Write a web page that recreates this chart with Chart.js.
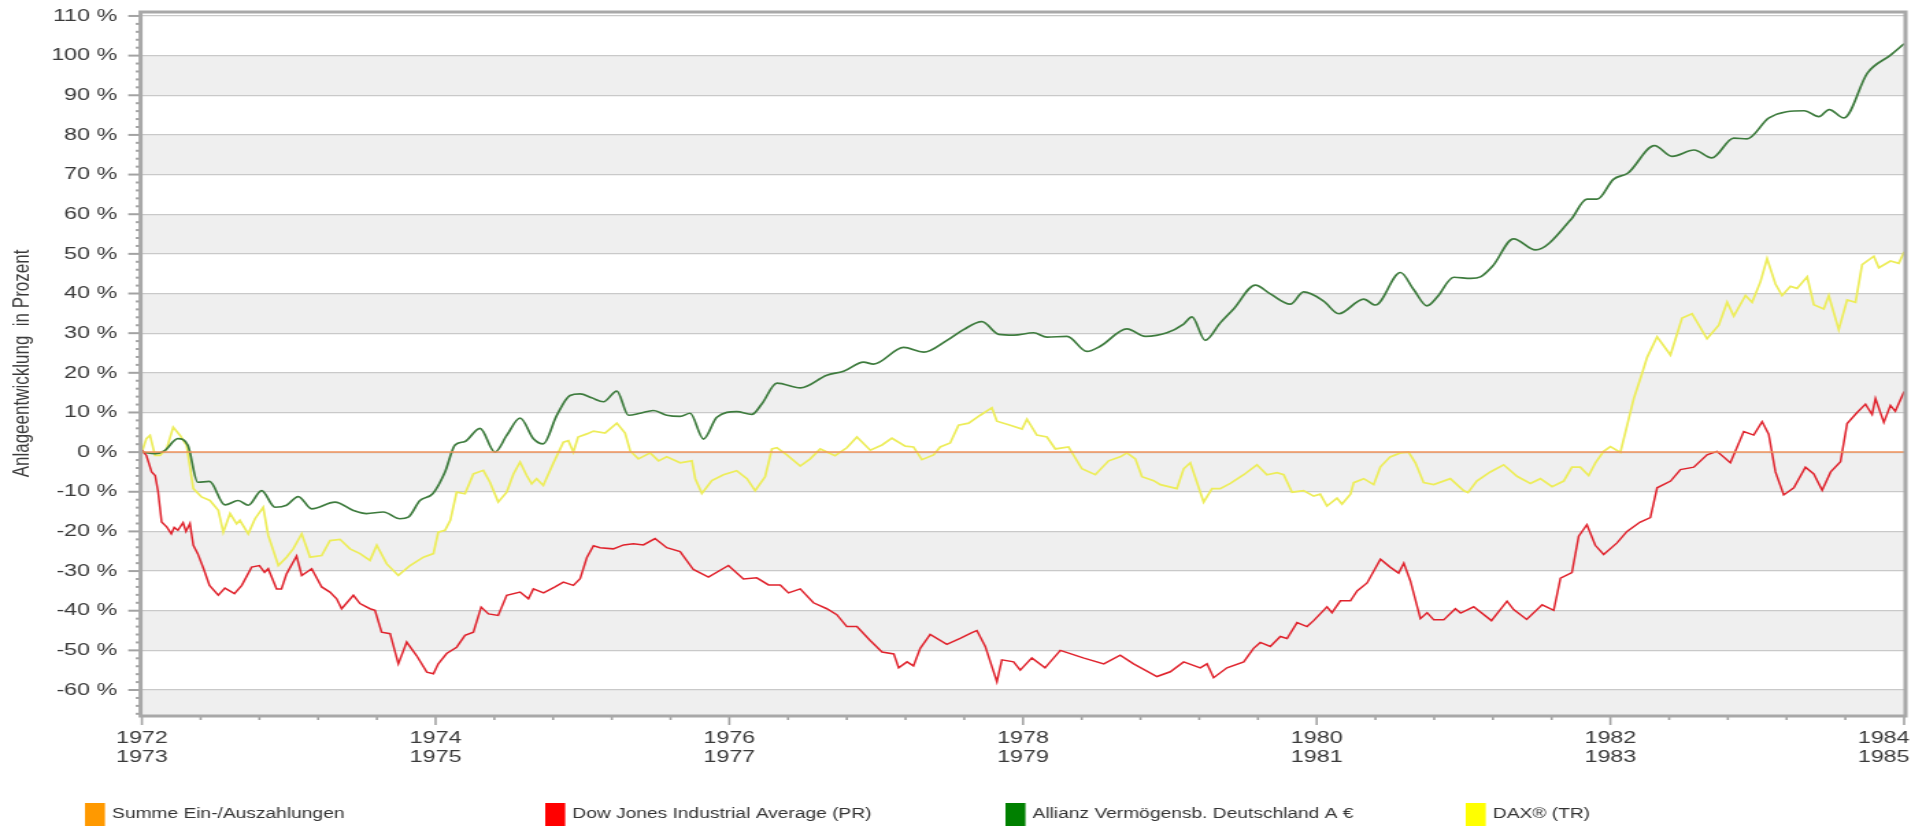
<!DOCTYPE html>
<html>
<head>
<meta charset="utf-8">
<title>Anlageentwicklung in Prozent</title>
<script src="https://cdn.jsdelivr.net/npm/chart.js@4.4.1/dist/chart.umd.min.js"></script>
<style>
html, body { margin: 0; padding: 0; background: #fff; overflow: hidden; }
</style>
</head>
<body>
<!-- drawn at 1406px wide, then stretched to 1926px like the reference -->
<canvas id="chart" width="1406" height="826" style="display:block;width:1926px;height:826px"></canvas>
<script>
var seriesLabels = ['Summe Ein-/Auszahlungen', 'Dow Jones Industrial Average (PR)', 'Allianz Vermögensb. Deutschland A €', 'DAX® (TR)'];
var lineColors = ['#f0925a', '#e0222c', '#3d7b3d', '#eded5a'];
var legendColors = ['#ff9900', '#ff0000', '#008000', '#ffff00'];

var xLabelYears = [1972, 1974, 1976, 1978, 1980, 1982, 1984];

var summeYears = [1972, 1984];
var summeValues = [0, 0];

var dowYears = [1972.0, 1972.03, 1972.066, 1972.09, 1972.11, 1972.134, 1972.17, 1972.2, 1972.22, 1972.245, 1972.28, 1972.3, 1972.327, 1972.35, 1972.38, 1972.42, 1972.46, 1972.52, 1972.565, 1972.63, 1972.68, 1972.747, 1972.8, 1972.835, 1972.86, 1972.917, 1972.95, 1972.985,
    1973.053, 1973.088, 1973.156, 1973.224, 1973.28, 1973.326, 1973.36, 1973.44, 1973.485, 1973.553, 1973.587, 1973.632, 1973.69, 1973.746, 1973.803, 1973.87, 1973.94, 1973.985,
    1974.018, 1974.075, 1974.143, 1974.2, 1974.257, 1974.31, 1974.36, 1974.426, 1974.484, 1974.575, 1974.632, 1974.666, 1974.735, 1974.813, 1974.87, 1974.938, 1974.984,
    1975.03, 1975.075, 1975.12, 1975.21, 1975.28, 1975.347, 1975.415, 1975.494, 1975.574, 1975.665, 1975.755, 1975.858, 1975.994,
    1976.096, 1976.187, 1976.267, 1976.347, 1976.403, 1976.483, 1976.573, 1976.664, 1976.732, 1976.8, 1976.869, 1976.959,
    1977.04, 1977.12, 1977.153, 1977.21, 1977.254, 1977.3, 1977.368, 1977.481, 1977.572, 1977.652, 1977.686, 1977.743, 1977.822, 1977.856, 1977.936, 1977.981,
    1978.06, 1978.15, 1978.254, 1978.41, 1978.55, 1978.662, 1978.753, 1978.912, 1979.003, 1979.094, 1979.207, 1979.253, 1979.298, 1979.389, 1979.503, 1979.57, 1979.616, 1979.684, 1979.752, 1979.798, 1979.866, 1979.934, 1979.979,
    1980.07, 1980.104, 1980.161, 1980.23, 1980.275, 1980.343, 1980.434, 1980.5, 1980.558, 1980.593, 1980.638, 1980.706, 1980.752, 1980.797, 1980.865, 1980.944, 1980.98,
    1981.069, 1981.19, 1981.296, 1981.341, 1981.43, 1981.535, 1981.614, 1981.66, 1981.738, 1981.784, 1981.84, 1981.897, 1981.954,
    1982.045, 1982.113, 1982.2, 1982.272, 1982.318, 1982.41, 1982.477, 1982.568, 1982.658, 1982.726, 1982.817, 1982.908, 1982.976,
    1983.033, 1983.078, 1983.124, 1983.18, 1983.249, 1983.328, 1983.385, 1983.442, 1983.5, 1983.567, 1983.612, 1983.68, 1983.737, 1983.782, 1983.805, 1983.862, 1983.907, 1983.94, 1984.0];
var dowValues = [0.5, -0.8, -5, -5.9, -10, -17.6, -18.9, -20.6, -19, -19.7, -17.8, -20, -18, -23.5, -25.6, -29.4, -33.6, -36.1, -34.3, -35.7, -33.6, -29, -28.6, -30.3, -29.4, -34.5, -34.5, -30.7,
    -26.2, -31.1, -29.4, -34, -35.3, -37, -39.5, -36.1, -38.2, -39.5, -39.9, -45.4, -45.8, -53.4, -47.9, -51.3, -55.5, -55.9,
    -53.4, -50.8, -49.2, -46.2, -45.4, -39.1, -40.8, -41.2, -36.1, -35.3, -37, -34.5, -35.5, -34, -32.8, -33.6, -31.9,
    -26.6, -23.6, -24.1, -24.4, -23.4, -23.1, -23.4, -21.8, -24.1, -25.1, -29.6, -31.5, -28.6,
    -32, -31.7, -33.5, -33.5, -35.5, -34.5, -38, -39.5, -41, -44, -44, -47.5,
    -50.4, -50.9, -54.4, -52.9, -53.9, -49.5, -46, -48.5, -47, -45.5, -45, -49, -57.9, -52.4, -52.9, -55,
    -51.9, -54.4, -50, -51.9, -53.4, -51.2, -53.4, -56.6, -55.4, -52.9, -54.4, -53.4, -56.9, -54.4, -52.9, -49.5, -48, -49, -46.5, -47, -43, -44, -42.5,
    -39, -40.5, -37.5, -37.5, -35, -33, -27, -29, -30.5, -28, -32.5, -42, -40.5, -42.3, -42.3, -39.5, -40.6,
    -39, -42.5, -37.6, -39.7, -42.2, -38.5, -39.9, -31.8, -30.4, -21.2, -18.3, -23.5, -25.8,
    -22.9, -20, -17.7, -16.5, -9, -7.3, -4.4, -3.8, -0.7, 0.2, -2.7, 5.2, 4.3,
    7.7, 4.5, -5, -10.8, -9, -3.8, -5.5, -9.6, -5, -2.4, 7.2, 10, 12.1, 9.5, 13.5, 7.5, 11.8, 10.3, 15.3];

var allianzYears = [1972.0, 1972.09, 1972.155, 1972.245, 1972.313, 1972.38, 1972.46, 1972.565, 1972.656, 1972.724, 1972.815, 1972.906, 1972.985,
    1973.065, 1973.156, 1973.315, 1973.44, 1973.53, 1973.644, 1973.757, 1973.814, 1973.893, 1973.98,
    1974.064, 1974.132, 1974.2, 1974.302, 1974.404, 1974.484, 1974.575, 1974.666, 1974.733, 1974.824, 1974.915, 1974.984,
    1975.063, 1975.143, 1975.234, 1975.313, 1975.393, 1975.483, 1975.574, 1975.665, 1975.733, 1975.824, 1975.915,
    1976.05, 1976.153, 1976.222, 1976.324, 1976.483, 1976.664, 1976.778, 1976.914, 1976.982,
    1977.187, 1977.323, 1977.482, 1977.595, 1977.72, 1977.834, 1977.936,
    1978.072, 1978.163, 1978.3, 1978.435, 1978.526, 1978.708, 1978.833, 1978.98,
    1979.094, 1979.15, 1979.241, 1979.343, 1979.434, 1979.582, 1979.684, 1979.82, 1979.911,
    1980.047, 1980.15, 1980.32, 1980.4, 1980.57, 1980.66, 1980.751, 1980.82, 1980.933,
    1981.05, 1981.115, 1981.2, 1981.34, 1981.49, 1981.73, 1981.84, 1981.91,
    1982.02, 1982.12, 1982.3, 1982.42, 1982.57, 1982.69, 1982.84, 1982.93,
    1983.08, 1983.32, 1983.42, 1983.49, 1983.59, 1983.75, 1983.91, 1984.0];
var allianzValues = [0, -0.4, 0.4, 3.4, 1.7, -7.6, -7.4, -13.3, -12.2, -13.4, -9.7, -13.9, -13.4,
    -11.2, -14.3, -12.6, -14.7, -15.5, -15.1, -16.8, -16.4, -12.2, -10.5,
    -5, 1.8, 2.7, 6, 0, 4.2, 8.6, 3.4, 2.1, 9.2, 14.3, 14.7,
    13.7, 12.7, 15.4, 9.3, 9.8, 10.5, 9.3, 9, 9.8, 3.3, 8.8,
    10.2, 9.5, 12.2, 17.4, 16.2, 19.4, 20.4, 22.7, 22.2,
    26.4, 25.2, 28.2, 30.9, 32.9, 29.7, 29.5,
    30.1, 29, 29.2, 25.4, 26.7, 31.1, 29.2, 30.1,
    32.3, 34.1, 28.2, 32.6, 36.1, 42.1, 39.9, 37.3, 40.4,
    38.1, 34.9, 38.6, 37.1, 45.3, 41, 36.9, 39.1, 44.1,
    43.8, 44.2, 47, 53.8, 51, 58.6, 63.8, 63.8,
    68.8, 70.4, 77.3, 74.6, 76.2, 74.2, 79.2, 79,
    84.3, 86.1, 84.6, 86.4, 84.3, 95.6, 100.2, 103];

var daxYears = [1972.0, 1972.03, 1972.055, 1972.089, 1972.123, 1972.168, 1972.213, 1972.26, 1972.304, 1972.35, 1972.406, 1972.463, 1972.52, 1972.554, 1972.6, 1972.645, 1972.667, 1972.724, 1972.77, 1972.826, 1972.86, 1972.929, 1972.985,
    1973.03, 1973.088, 1973.145, 1973.224, 1973.281, 1973.349, 1973.417, 1973.485, 1973.553, 1973.599, 1973.667, 1973.746, 1973.826, 1973.917, 1973.985,
    1974.018, 1974.064, 1974.1, 1974.143, 1974.2, 1974.257, 1974.325, 1974.37, 1974.426, 1974.484, 1974.53, 1974.575, 1974.62, 1974.654, 1974.688, 1974.733, 1974.8, 1974.87, 1974.904, 1974.938, 1974.97,
    1975.03, 1975.075, 1975.154, 1975.234, 1975.29, 1975.325, 1975.381, 1975.461, 1975.518, 1975.574, 1975.665, 1975.745, 1975.768, 1975.813, 1975.881, 1975.96,
    1976.05, 1976.12, 1976.176, 1976.244, 1976.29, 1976.324, 1976.392, 1976.483, 1976.551, 1976.619, 1976.72, 1976.8, 1976.869, 1976.96,
    1977.04, 1977.107, 1977.198, 1977.254, 1977.311, 1977.391, 1977.436, 1977.504, 1977.561, 1977.63, 1977.709, 1977.788, 1977.822, 1977.913, 1977.993,
    1978.027, 1978.094, 1978.163, 1978.22, 1978.31, 1978.401, 1978.492, 1978.583, 1978.662, 1978.708, 1978.765, 1978.81, 1978.89, 1978.935,
    1979.048, 1979.094, 1979.139, 1979.185, 1979.23, 1979.287, 1979.343, 1979.412, 1979.503, 1979.593, 1979.661, 1979.73, 1979.775, 1979.832, 1979.911, 1979.979,
    1980.024, 1980.07, 1980.138, 1980.172, 1980.23, 1980.252, 1980.32, 1980.388, 1980.434, 1980.5, 1980.57, 1980.626, 1980.672, 1980.728, 1980.797, 1980.91,
    1981.0, 1981.03, 1981.09, 1981.182, 1981.273, 1981.364, 1981.455, 1981.523, 1981.603, 1981.682, 1981.738, 1981.795, 1981.852, 1981.898, 1981.954,
    1982.0, 1982.068, 1982.113, 1982.159, 1982.216, 1982.25, 1982.318, 1982.409, 1982.488, 1982.556, 1982.658, 1982.738, 1982.795, 1982.84, 1982.92, 1982.965,
    1983.022, 1983.067, 1983.124, 1983.169, 1983.226, 1983.271, 1983.34, 1983.385, 1983.453, 1983.487, 1983.555, 1983.612, 1983.669, 1983.714, 1983.794, 1983.828, 1983.907, 1983.964, 1984.0];
var daxValues = [0, 3.4, 4.2, -0.8, -0.8, 0.8, 6.3, 4.2, 1.7, -9.2, -11.3, -12.2, -14.7, -20.2, -15.5, -18.1, -17.2, -20.6, -16.8, -13.9, -21, -28.6, -26.5,
    -24.4, -20.6, -26.5, -26.1, -22.3, -22, -24.4, -25.6, -27.3, -23.5, -28.2, -31.1, -28.6, -26.5, -25.6,
    -20.2, -19.7, -17.2, -10.1, -10.5, -5.5, -4.6, -7.6, -12.6, -10.1, -5.5, -2.5, -5.9, -8, -6.7, -8.4, -2.9, 2.5, 2.9, 0, 3.8,
    4.6, 5.3, 4.8, 7.3, 4.8, 0.3, -1.7, -0.2, -2.2, -1.2, -2.7, -2.2, -6.7, -10.4, -7.2, -5.7,
    -4.7, -6.7, -9.7, -6.2, 0.8, 1.1, -0.7, -3.5, -1.7, 0.8, -0.9, 1.1, 3.8, 0.5,
    1.8, 3.5, 1.5, 1.3, -1.9, -0.7, 1.3, 2.3, 6.8, 7.3, 9.3, 11.2, 7.8, 6.8, 5.8,
    8.3, 4.3, 3.8, 0.8, 1.3, -4.2, -5.7, -2.2, -1.2, -0.2, -1.7, -6.2, -7.2, -8.2,
    -9.2, -4.2, -2.7, -7.7, -12.6, -9.2, -9.2, -7.9, -5.7, -3.2, -5.7, -5.2, -5.7, -10.1, -9.7, -11.1,
    -10.6, -13.6, -11.6, -13.1, -10.6, -7.7, -6.7, -8.2, -3.7, -1.2, -0.2, 0, -2.7, -7.7, -8.2, -6.7,
    -9.7, -10.2, -7.3, -5, -3.2, -6.1, -7.9, -6.7, -8.7, -7.3, -3.8, -3.8, -5.9, -2.7, 0.2,
    1.4, -0.1, 6.6, 13.5, 19.9, 23.9, 29.1, 24.5, 33.8, 34.9, 28.6, 32, 37.8, 34.3, 39.5, 37.8,
    43, 48.8, 42.4, 39.5, 41.8, 41.3, 44.2, 37.2, 36.1, 39.5, 30.9, 38.4, 37.8, 47.3, 49.4, 46.5, 48.2, 47.6, 50.5];

var fontFamily = '"Liberation Sans", Arial, Helvetica, sans-serif';
var textColor = '#3a3a3a';

function toPoints(xs, ys) {
    return xs.map(function(x, i) { return { x: x, y: ys[i] }; });
}

// background bands, frame, tick marks, x labels, axis title and legend
var chartDecor = {
    id: 'chartDecor',
    beforeDraw: function(chart) {
        var ctx = chart.ctx, area = chart.chartArea, yScale = chart.scales.y;
        ctx.save();
        ctx.fillStyle = '#ffffff';
        ctx.fillRect(0, 0, chart.width, chart.height);
        ctx.fillStyle = '#efefef';
        for (var v = -70; v < 110; v += 10) {
            if (Math.abs(v / 10) % 2 !== 1) continue;
            var top = yScale.getPixelForValue(Math.min(v + 10, yScale.max));
            var bottom = yScale.getPixelForValue(Math.max(v, yScale.min));
            ctx.fillRect(area.left, top, area.right - area.left, bottom - top);
        }
        ctx.restore();
    },
    afterDraw: function(chart) {
        var ctx = chart.ctx, area = chart.chartArea;
        var xScale = chart.scales.x, yScale = chart.scales.y;
        var i, v, px;
        ctx.save();

        // y tick marks: 10 % major, 2 % minor
        ctx.strokeStyle = '#a3a3a3';
        ctx.lineWidth = 2;
        for (v = -66; v <= 110; v += 2) {
            px = yScale.getPixelForValue(v);
            ctx.beginPath();
            ctx.moveTo(area.left - (v % 10 === 0 ? 10 : 4.5), px);
            ctx.lineTo(area.left, px);
            ctx.stroke();
        }

        // x tick marks: 2 years major, 0.4 year minor
        ctx.lineWidth = 1.6;
        for (i = 0; i <= 30; i++) {
            px = xScale.getPixelForValue(1972 + i * 0.4);
            ctx.beginPath();
            ctx.moveTo(px, area.bottom);
            ctx.lineTo(px, area.bottom + (i % 5 === 0 ? 10 : 5));
            ctx.stroke();
        }

        // frame
        ctx.strokeStyle = '#a8a8a8';
        ctx.lineWidth = 3;
        ctx.strokeRect(area.left - 1, area.top, area.right - area.left + 2, area.bottom - area.top + 1);

        // x labels, two lines each
        ctx.fillStyle = textColor;
        ctx.font = '17px ' + fontFamily;
        ctx.textAlign = 'center';
        ctx.textBaseline = 'middle';
        xLabelYears.forEach(function(year) {
            var cx = xScale.getPixelForValue(year);
            var w = ctx.measureText(String(year)).width;
            if (cx + w / 2 > chart.width - 12) cx = chart.width - 12 - w / 2;
            ctx.fillText(String(year), cx, area.bottom + 23);
            ctx.fillText(String(year + 1), cx, area.bottom + 42);
        });

        // y axis title
        ctx.save();
        ctx.translate(16, (area.top + area.bottom) / 2);
        ctx.rotate(-Math.PI / 2);
        ctx.font = '17px ' + fontFamily;
        ctx.fillText('Anlageentwicklung  in Prozent', 0, 0);
        ctx.restore();

        // legend
        ctx.font = '14px ' + fontFamily;
        ctx.textAlign = 'left';
        for (i = 0; i < seriesLabels.length; i++) {
            var bx = 62 + i * 336;
            ctx.fillStyle = legendColors[i];
            ctx.fillRect(bx, 803, 14.6, 30);
            ctx.fillStyle = '#333333';
            ctx.fillText(seriesLabels[i], bx + 19.8, 814);
        }
        ctx.restore();
    }
};

var datasets = [
    { label: seriesLabels[0], data: toPoints(summeYears, summeValues), borderColor: lineColors[0], borderWidth: 1.5 },
    { label: seriesLabels[1], data: toPoints(dowYears, dowValues), borderColor: lineColors[1], borderWidth: 1.5 },
    { label: seriesLabels[2], data: toPoints(allianzYears, allianzValues), borderColor: lineColors[2], borderWidth: 1.7, cubicInterpolationMode: 'monotone' },
    { label: seriesLabels[3], data: toPoints(daxYears, daxValues), borderColor: lineColors[3], borderWidth: 1.7 }
];
datasets.forEach(function(ds) {
    ds.pointRadius = 0;
    ds.fill = false;
});

var chart = new Chart(document.getElementById('chart').getContext('2d'), {
    type: 'line',
    data: { datasets: datasets },
    options: {
        responsive: false,
        animation: false,
        devicePixelRatio: 1,
        layout: { padding: { left: 0, right: 16, top: 12, bottom: 0 } },
        plugins: {
            legend: { display: false },
            tooltip: { enabled: false }
        },
        scales: {
            x: {
                type: 'linear',
                min: 1972,
                max: 1984,
                ticks: { display: false },
                grid: { display: false },
                border: { display: false },
                afterFit: function(scale) {
                    scale.height = 111;
                    scale.paddingLeft = 0;
                    scale.paddingRight = 0;
                }
            },
            y: {
                min: -66.3,
                max: 111,
                ticks: {
                    stepSize: 10,
                    includeBounds: false,
                    autoSkip: false,
                    padding: 18,
                    color: textColor,
                    font: { family: fontFamily, size: 17 },
                    callback: function(value) { return value + ' %'; }
                },
                grid: { color: '#c9c9c9', lineWidth: 1.2, drawTicks: false },
                border: { display: false },
                afterFit: function(scale) {
                    scale.width = 103.6;
                    scale.paddingTop = 0;
                    scale.paddingBottom = 0;
                }
            }
        }
    },
    plugins: [chartDecor]
});
</script>
</body>
</html>
